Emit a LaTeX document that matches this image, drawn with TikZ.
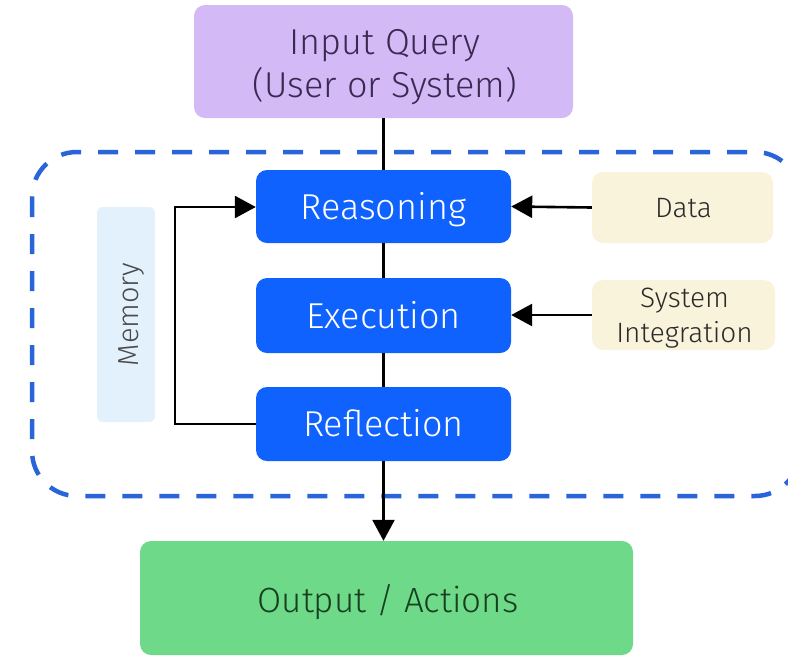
\documentclass[tikz,border=0pt]{standalone}
\usepackage{fontspec}
\setmainfont{Fira Sans Light}
\usetikzlibrary{arrows.meta}
\definecolor{blueBox}{HTML}{0F62FE}
\definecolor{dashBlue}{HTML}{2A64DB}
\definecolor{lavender}{HTML}{D3BAF7}
\definecolor{lavText}{HTML}{3A2A52}
\definecolor{greenBox}{HTML}{6FD98A}
\definecolor{greenText}{HTML}{17401F}
\definecolor{cream}{HTML}{FAF3DC}
\definecolor{memFill}{HTML}{E2F1FB}
\definecolor{darkText}{HTML}{2A2A2A}
\tikzset{
  x=1pt, y=-1pt,
  box/.style={rounded corners=11pt, inner sep=0pt},
  stage/.style={box, fill=blueBox, text=white, font=\fontsize{36}{40}\selectfont,
                text height=25pt, text depth=0pt},
  sidebox/.style={box, fill=cream},
  sidetext/.style={anchor=base, inner sep=0pt, text=darkText, font=\fontsize{28}{35}\selectfont},
  bigtext/.style={anchor=base, inner sep=0pt, font=\fontsize{36}{44}\selectfont},
  link/.style={line width=2.6pt, black},
  tip/.style={-{Triangle[length=21pt,width=22pt]}}
}
\begin{document}
\begin{tikzpicture}
\useasboundingbox (0,0) rectangle (788,657);
\fill[white] (0,0) rectangle (788,657);

% agent boundary
\draw[dashBlue, line width=4.5pt, dash pattern=on 20pt off 17pt, rounded corners=45pt]
  (32,152) rectangle (800,496);

% input query
\node[box, fill=lavender, minimum width=379pt, minimum height=113pt] (input) at (383.5,61.5) {};
\node[bigtext, text=lavText] (inputA) at (385,54) {Input Query};
\node[bigtext, text=lavText] (inputB) at (385,97) {(User or System)};

% output
\node[box, fill=greenBox, minimum width=493pt, minimum height=114pt] (output) at (386.5,598) {};
\node[bigtext, text=greenText, font=\fontsize{35}{40}\selectfont] (outputT) at (388,612) {Output / Actions};

% core stages
\node[stage, minimum width=255pt, minimum height=73pt] (reason) at (383.5,206.5) {Reasoning};
\node[stage, minimum width=255pt, minimum height=75pt] (exec) at (383.5,315.5) {Execution};
\node[stage, minimum width=255pt, minimum height=74pt] (reflect) at (383.5,424) {Reflection};

% side inputs
\node[sidebox, minimum width=181pt, minimum height=71pt] (data) at (682.5,207.5) {};
\node[sidetext] (dataT) at (683.5,217) {Data};
\node[sidebox, minimum width=183pt, minimum height=70pt] (sysint) at (683.5,315) {};
\node[sidetext] (sysintA) at (684.5,307) {System};
\node[sidetext] (sysintB) at (684.5,342) {Integration};

% memory store
\node[box, rounded corners=6pt, fill=memFill, minimum width=58pt, minimum height=215pt] (mem) at (126,314.5) {};
\node[rotate=90, anchor=base, inner sep=0pt, text=darkText!85, font=\fontsize{29}{32}\selectfont]
  (memlabel) at (138,314.5) {Memory};

% connectors
\draw[link] (input.south) -- (reason.north);
\draw[link] (reason.south) -- (exec.north);
\draw[link] (exec.south) -- (reflect.north);
\draw[link, tip] (reflect.south) -- (output.north -| reflect.south);
\draw[link, tip] (data.west) -- (reason.east);
\draw[link, tip] (sysint.west) -- (exec.east |- sysint.west);
\coordinate (loopA) at (175,424);
\coordinate (loopB) at (175,207);
\draw[link, tip] (reflect.west) -- (loopA) -- (loopB) -- (reason.west |- loopB);
\end{tikzpicture}
\end{document}
